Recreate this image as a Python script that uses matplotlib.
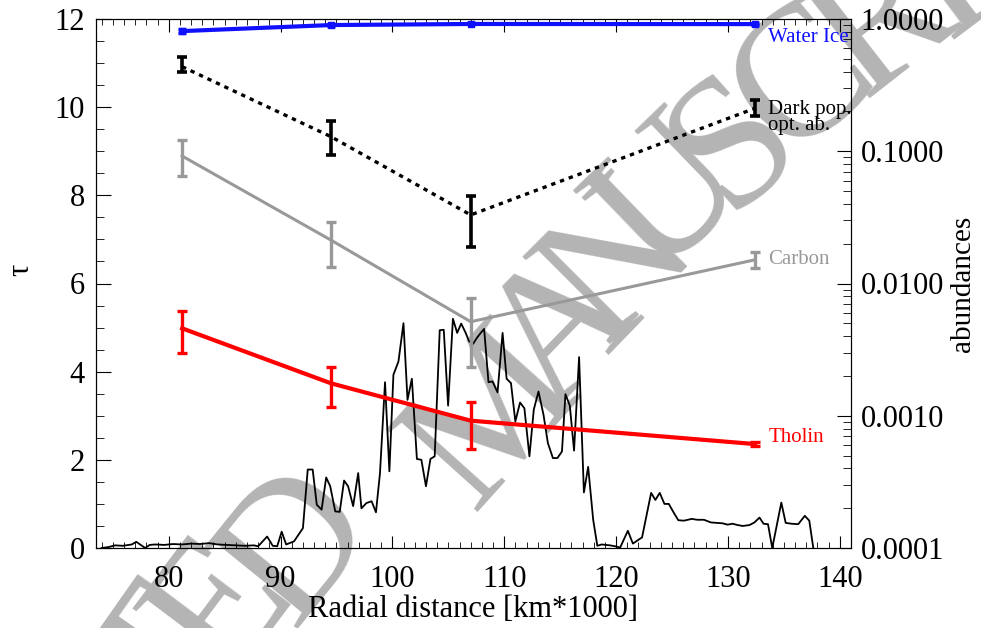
import numpy as np
import matplotlib
matplotlib.use('Agg')
import matplotlib.pyplot as plt
from matplotlib.ticker import MultipleLocator, FuncFormatter, LogLocator, NullFormatter

plt.rcParams['font.family'] = ['Liberation Serif', 'DejaVu Serif']

# radial positions of the fitted spectra [km*1000]
radius = [81.2, 94.5, 107.0, 132.4]

# abundances (right axis) with lower / upper error limits
water_ice = [0.81, 0.90, 0.917, 0.915]
water_lo = [0.78, 0.89, 0.91, 0.905]
water_hi = [0.84, 0.91, 0.925, 0.925]

dark_pop = [0.436, 0.129, 0.033, 0.211]
dark_lo = [0.395, 0.094, 0.019, 0.185]
dark_hi = [0.513, 0.170, 0.046, 0.244]

carbon = [0.092, 0.0213, 0.00514, 0.0151]
carbon_lo = [0.065, 0.0134, 0.00235, 0.0130]
carbon_hi = [0.1216, 0.0293, 0.00773, 0.0172]

tholin = [0.00458, 0.00176, 0.000918, 0.000611]
tholin_lo = [0.0030, 0.00117, 0.000561, 0.000595]
tholin_hi = [0.00622, 0.00235, 0.00128, 0.000628]

# optical depth profile (left axis)
tau_x = [74.0, 74.6, 75.2, 75.9, 76.7, 77.1, 77.9, 78.3, 78.8, 79.6, 80.4, 81.2,
         82.0, 82.8, 83.6, 84.4, 85.2, 86.0, 86.8, 87.6, 88.0, 88.8, 89.3, 89.7,
         90.1, 90.5, 91.2, 92.0, 92.43, 92.87, 93.24, 93.67, 94.08, 94.44, 94.89,
         95.29, 95.68, 96.04, 96.49, 96.94, 97.23, 97.68, 98.14, 98.53, 98.89,
         99.34, 99.73, 100.09, 100.54, 100.99, 101.35, 101.74, 102.19, 102.59,
         103.0, 103.40, 103.78, 104.23, 104.59, 104.98, 105.41, 105.79, 106.15,
         106.55, 106.85, 107.21, 107.59, 107.9, 108.20, 108.59, 108.95, 109.40,
         109.85, 110.21, 110.60, 110.99, 111.41, 111.80, 112.25, 112.64, 113.06,
         113.51, 113.90, 114.35, 114.75, 115.16, 115.47, 115.86, 116.24, 116.69,
         117.12, 117.50, 117.95, 118.32, 118.71, 119.46, 119.9, 120.36, 121.05,
         121.50, 121.9, 122.32, 123.13, 123.51, 123.90, 124.32, 124.71, 125.11,
         125.56, 126.06, 126.4, 126.76, 127.27, 127.86, 128.47, 129.0, 129.52,
         129.97, 130.42, 130.87, 131.32, 131.92, 132.37, 132.82, 133.18, 133.58,
         133.96, 134.77, 135.16, 135.7, 136.28, 136.87, 137.27, 137.63]
tau_y = [0.0, 0.02, 0.06, 0.05, 0.08, 0.14, 0.0, 0.07, 0.08, 0.07, 0.09, 0.08,
         0.10, 0.09, 0.11, 0.08, 0.07, 0.06, 0.05, 0.06, 0.04, 0.26, 0.05, 0.04,
         0.37, 0.08, 0.15, 0.45, 1.78, 1.78, 0.98, 0.87, 1.60, 1.40, 0.83,
         0.82, 1.53, 1.40, 0.95, 1.70, 0.90, 1.02, 1.06, 0.81, 1.70,
         3.76, 1.74, 3.93, 4.23, 5.10, 3.36, 3.84, 2.02, 2.00,
         1.40, 2.02, 2.08, 4.94, 4.95, 3.23, 5.20, 4.88, 5.09,
         4.88, 4.69, 4.63, 4.78, 4.88, 4.97, 3.76, 3.78, 3.53,
         4.88, 3.84, 3.74, 2.87, 3.30, 3.17, 2.08, 3.14, 3.55,
         3.02, 2.38, 2.04, 2.04, 2.19, 3.49, 3.23, 2.21, 4.33,
         1.26, 1.84, 0.64, 0.05, 0.08, 0.06, 0.04, 0.01, 0.39,
         0.10, 0.17, 0.24, 1.25, 1.09, 1.25, 1.00, 1.00, 0.82,
         0.63, 0.62, 0.64, 0.66, 0.64, 0.64, 0.58, 0.57, 0.56,
         0.53, 0.55, 0.52, 0.50, 0.52, 0.58, 0.69, 0.55, 0.54,
         0.0, 1.03, 0.57, 0.55, 0.54, 0.73, 0.62, 0.0]

watermark = "ACCEPTED MANUSCRIPT"


def err(vals, lo, hi):
    v = np.array(vals)
    return [v - np.array(lo), np.array(hi) - v]


fig = plt.figure(figsize=(9.81, 6.28), dpi=100)

# grey watermark behind everything (pixel centres + rotation, letter by letter)
wm_pos = [(-130, 960, 60), (-75, 895, 60), (-20, 830, 58), (45, 765, 57),
          (110, 710, 56), (170, 660, 55), (225, 610, 53), (300, 548, 51),
          (390, 480, 50), (495, 420, 48), (565, 333, 46), (620, 264, 45),
          (672, 200, 44), (735, 145, 42), (805, 83, 40), (885, 25, 38),
          (945, -15, 37), (1000, -52, 36), (1065, -95, 35)]
for ch, (px, py, rot) in zip(watermark, wm_pos):
    fig.text(px / 981, 1 - py / 628, ch, rotation=rot, ha='center', va='center',
             fontsize=135, color='#b4b4b4', zorder=-10)

ax = fig.add_axes([96 / 981, 80 / 628, 755 / 981, 529 / 628])
ax.set_facecolor('none')
ax.plot(tau_x, tau_y, color='black', lw=1.3, zorder=3)
ax.set_xlim(73.5, 141.0)
ax.set_ylim(0, 12)
ax.xaxis.set_major_locator(MultipleLocator(10))
ax.xaxis.set_minor_locator(MultipleLocator(1))
ax.yaxis.set_major_locator(MultipleLocator(2))
ax.yaxis.set_minor_locator(MultipleLocator(0.5))
ax.tick_params(axis='x', which='both', direction='in', top=True, labelsize=22, pad=12)
ax.tick_params(axis='x', which='major', length=9)
ax.tick_params(axis='x', which='minor', length=4.5)
ax.tick_params(axis='y', which='both', direction='in', right=False, labelsize=22, pad=8)
ax.tick_params(axis='y', which='major', length=11)
ax.tick_params(axis='y', which='minor', length=5.5)
ax.set_xlabel('Radial distance [km*1000]', fontsize=22, labelpad=1)
ax.set_ylabel('τ', fontsize=22)
ax.yaxis.set_label_coords(-0.08, 0.525)

ax2 = ax.twinx()
ax2.set_yscale('log')
ax2.set_ylim(1e-4, 1.0)
ax2.yaxis.set_major_locator(LogLocator(base=10))
ax2.yaxis.set_minor_locator(LogLocator(base=10, subs=np.arange(2, 10)))
ax2.yaxis.set_major_formatter(FuncFormatter(lambda v, p: f'{v:.4f}'))
ax2.yaxis.set_minor_formatter(NullFormatter())
ax2.tick_params(axis='y', which='both', direction='in', labelsize=22, pad=7)
ax2.tick_params(axis='y', which='major', length=10)
ax2.tick_params(axis='y', which='minor', length=6)
ax2.set_ylabel('abundances', fontsize=21, labelpad=4)

ax2.errorbar(radius, water_ice, yerr=err(water_ice, water_lo, water_hi),
             color='#1010ff', lw=3, elinewidth=2.4, capsize=3, capthick=2.4,
             marker='s', ms=4, zorder=4)
ax2.errorbar(radius, dark_pop, yerr=err(dark_pop, dark_lo, dark_hi),
             color='black', lw=2.4, dashes=(1.3, 1.5), elinewidth=2.6, capsize=3.5,
             capthick=2.6, zorder=4)
ax2.errorbar(radius, carbon, yerr=err(carbon, carbon_lo, carbon_hi),
             color='#999999', lw=2.2, elinewidth=2.4, capsize=3.5, capthick=2.4,
             zorder=4)
ax2.errorbar(radius, tholin, yerr=err(tholin, tholin_lo, tholin_hi),
             color='#ff0000', lw=3, elinewidth=2.4, capsize=3.5, capthick=2.4,
             zorder=4)

ax2.text(133.6, 0.72, 'Water Ice', color='#1010ff', fontsize=15, va='center')
ax2.text(133.6, 0.18, 'Dark pop.\nopt. ab.', color='black', fontsize=15,
         va='center', linespacing=0.75)
ax2.text(133.6, 0.0151, 'Carbon', color='#999999', fontsize=15, va='center')
ax2.text(133.6, 0.00068, 'Tholin', color='#ff0000', fontsize=15, va='center')

fig.savefig('out.png', dpi=100)
